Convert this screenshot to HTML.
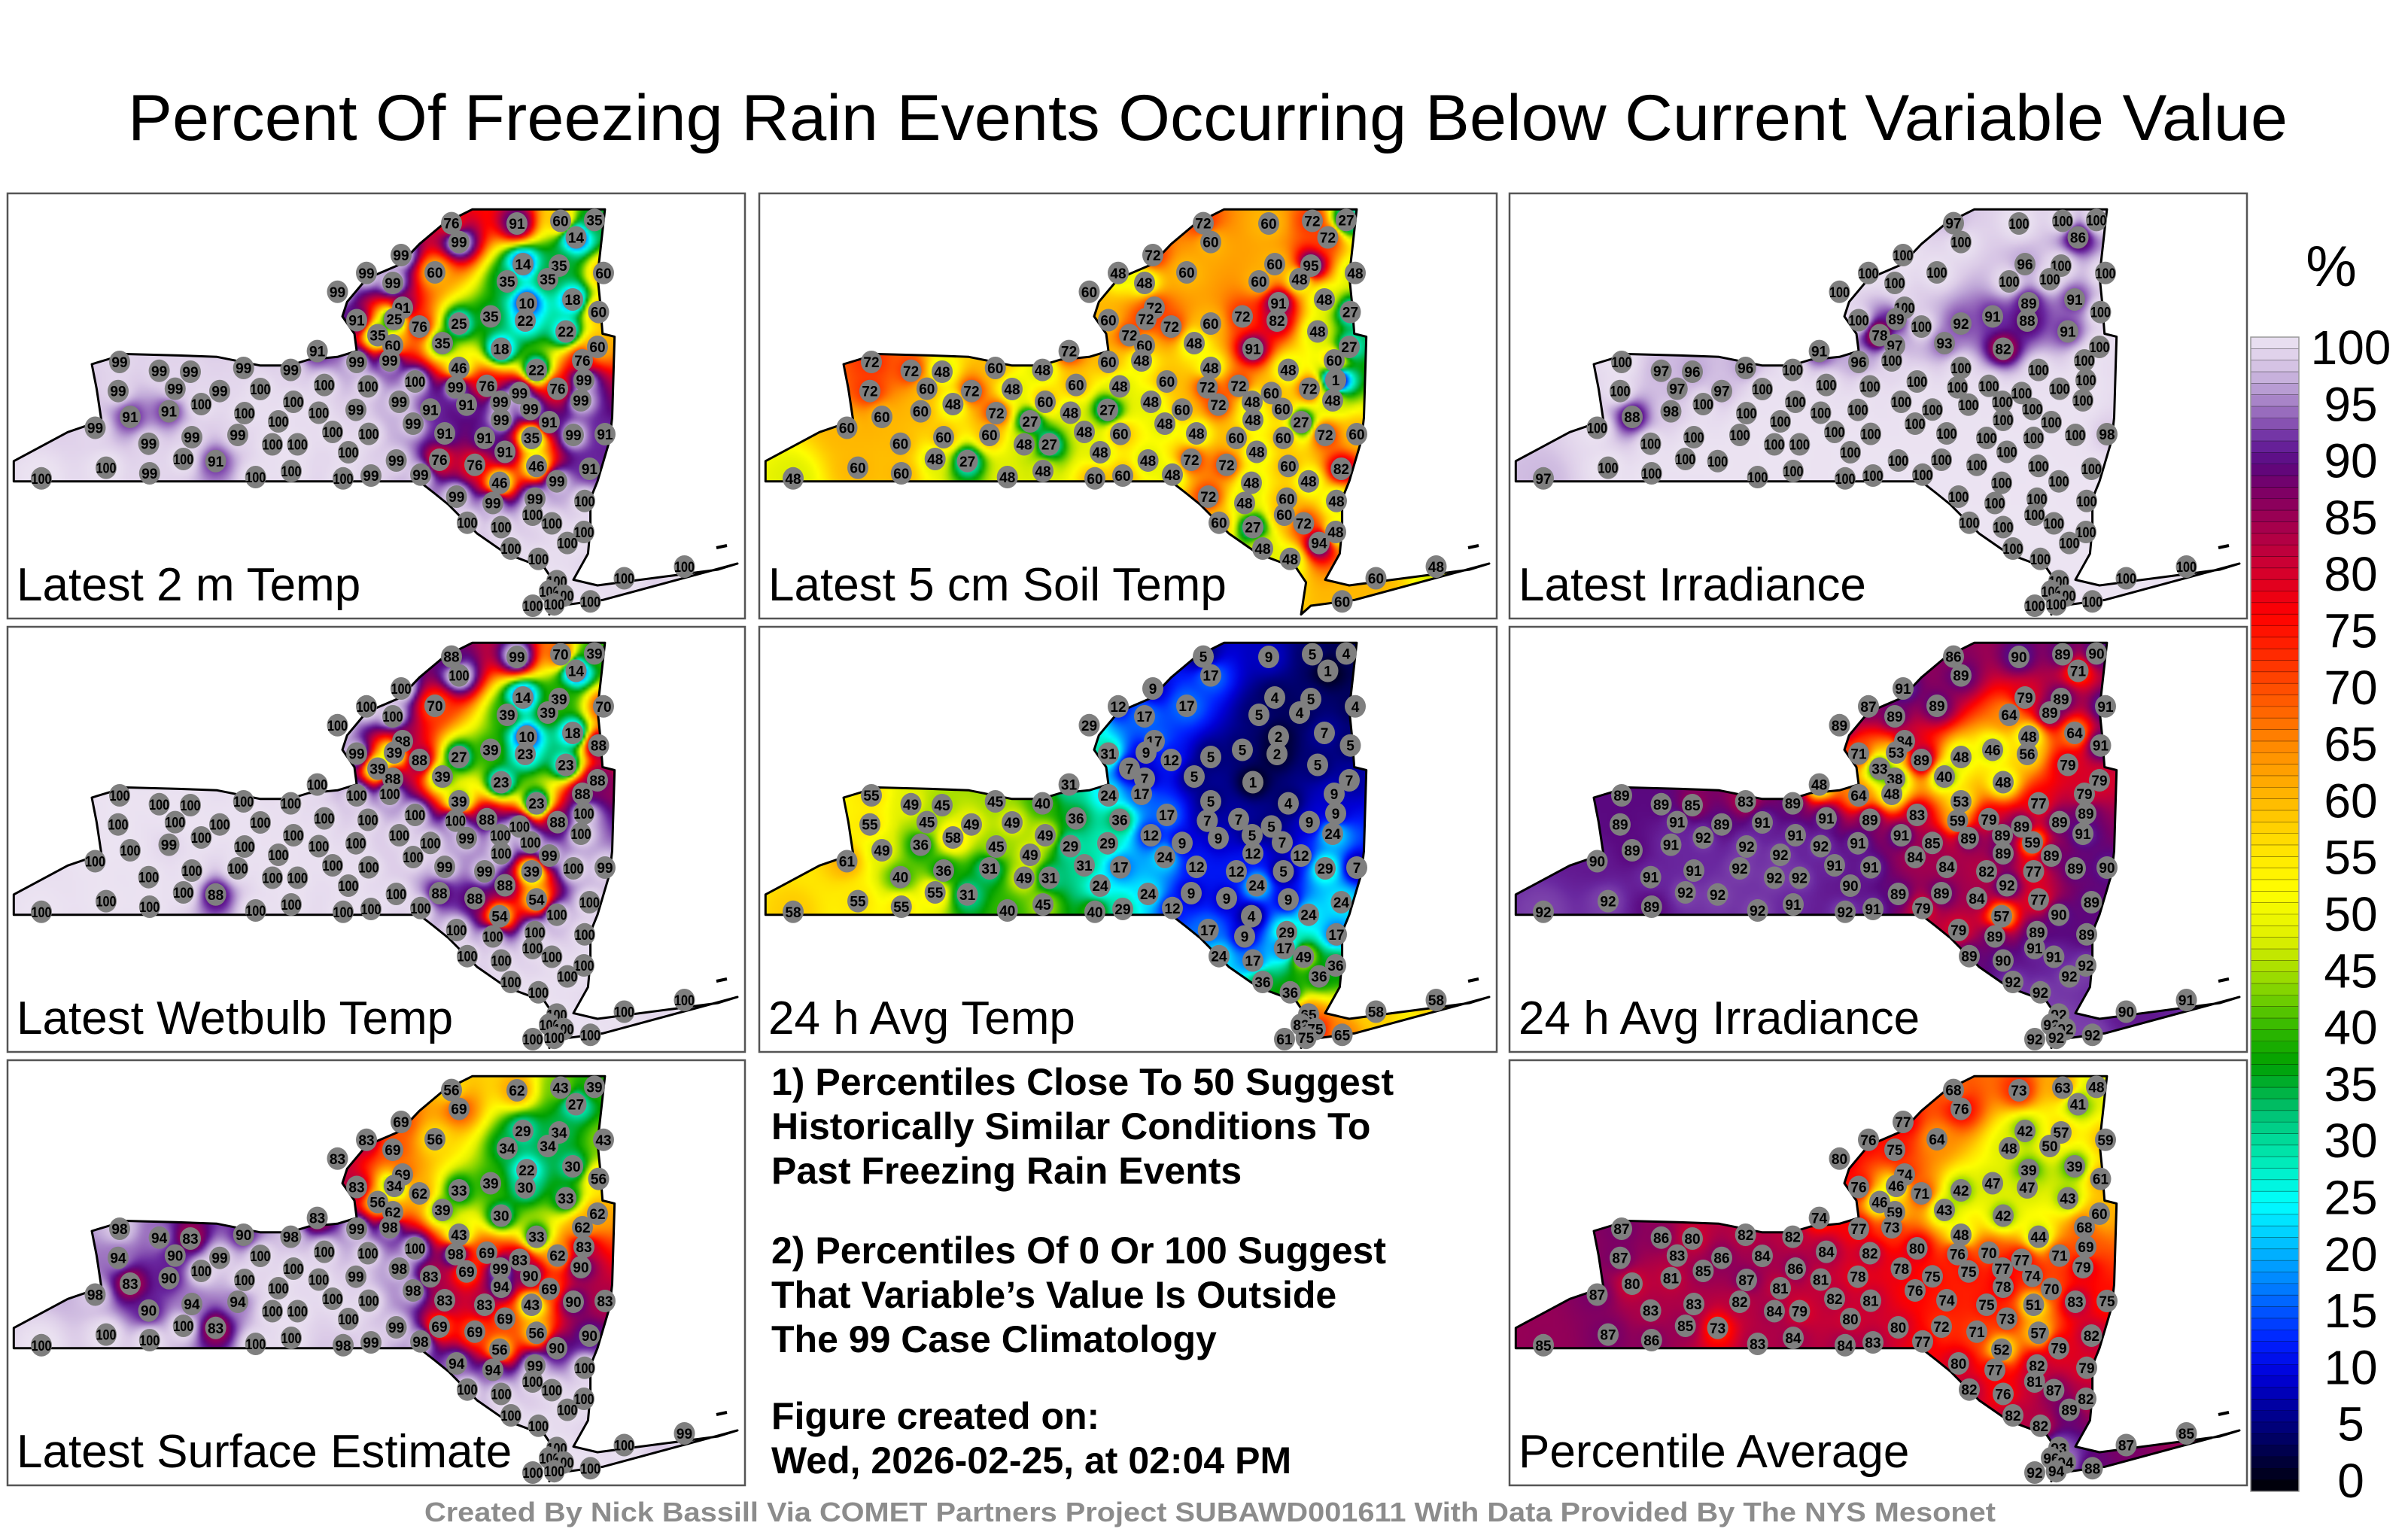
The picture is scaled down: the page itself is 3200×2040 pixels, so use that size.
<!DOCTYPE html>
<html><head><meta charset="utf-8">
<style>
html,body{margin:0;padding:0;background:#fff;width:3200px;height:2040px;overflow:hidden}
#fld{position:absolute;left:0;top:0}
#ov{position:absolute;left:0;top:0}
text{font-family:"Liberation Sans",sans-serif}
</style></head>
<body>
<canvas id="fld" width="3200" height="2040"></canvas>
<svg id="ov" width="3200" height="2040" xmlns="http://www.w3.org/2000/svg">
<text x="1605" y="186" font-size="86" text-anchor="middle" textLength="2870" lengthAdjust="spacingAndGlyphs">Percent Of Freezing Rain Events Occurring Below Current Variable Value</text>
<g id="panels"></g>
<g font-weight="bold" font-size="50">
<text x="1025" y="1455">1) Percentiles Close To 50 Suggest</text>
<text x="1025" y="1514">Historically Similar Conditions To</text>
<text x="1025" y="1573">Past Freezing Rain Events</text>
<text x="1025" y="1679">2) Percentiles Of 0 Or 100 Suggest</text>
<text x="1025" y="1738">That Variable’s Value Is Outside</text>
<text x="1025" y="1797">The 99 Case Climatology</text>
<text x="1025" y="1899">Figure created on:</text>
<text x="1025" y="1958">Wed, 2026-02-25, at 02:04 PM</text>
</g>
<g id="cbar"></g>
<text x="3098" y="380" font-size="76" text-anchor="middle">%</text>
<text x="1608" y="2022" font-size="36" font-weight="bold" fill="#8c8c8c" text-anchor="middle" textLength="2088" lengthAdjust="spacingAndGlyphs">Created By Nick Bassill Via COMET Partners Project SUBAWD001611 With Data Provided By The NYS Mesonet</text>
</svg>
<script>
// ---- data ----
const panelTitles=["Latest 2 m Temp","Latest 5 cm Soil Temp","Latest Irradiance","Latest Wetbulb Temp","24 h Avg Temp","24 h Avg Irradiance","Latest Surface Estimate","Percentile Average"];
const stations=[[590,39.6],[677,40],[735,36.5],[780,35.4],[755.5,58.5],[600,64.6],[523,82],[477,105.8],[512,119],[438.5,130.8],[568,105],[685,94],[733,96],[664,117],[718,114],[792,105.8],[690,146],[751,141],[785.5,157.7],[525,152],[514,167],[464,168.5],[547.4,177],[600,173],[642,163.5],[688,169],[742,183.5],[492,188.5],[512,202],[578,199],[656,206.5],[784,204],[411.6,209.6],[464,224],[508,222],[600,232],[703,234.6],[764,222],[149,224],[201.6,235.8],[243,237],[313.7,232],[376.4,234.6],[541.6,250],[595.4,257.7],[637,255.8],[680.5,265.4],[731,259.6],[766,248],[147,262.7],[222.8,259.6],[282,262.7],[336,260],[421,254.6],[479,256.5],[762,275],[610,280.8],[655,277],[695,286.5],[520.5,277],[380,277],[463,287.7],[257.4,280],[163,297],[214.5,289.6],[116.5,311.5],[315,292],[413.6,291.5],[360,303],[562,287.3],[720,304],[656,301],[539,306],[581,319],[634,325],[696.5,325],[752,321],[794,320],[187.6,332.7],[245,324],[306,321],[432,317],[480,319.6],[352,333.5],[385.4,333.5],[661,343.5],[453,344],[233.7,353],[276.6,355.8],[574,354],[621,360.8],[703,362.3],[773.4,366],[516.6,355],[131,364.6],[188.8,372],[377,369],[329.7,377],[446,378.8],[483,375],[549,373.8],[45,378.8],[654,384.6],[730,382.7],[596.7,403],[645,411.5],[701,405.8],[767,408.8],[697.8,427],[611,437.7],[656,443.5],[723.4,438.5],[766,450],[744,464.6],[669,472],[705.5,485.8],[730,515.4],[720,528.8],[739,534.6],[698,548],[726.6,546.2],[774.6,542.3],[819.5,511.5],[899.5,496]];
const temp2m=[76,91,60,35,14,99,99,99,99,99,60,14,35,35,35,60,10,18,60,91,25,91,76,25,35,22,22,35,60,35,18,60,91,99,99,46,22,76,99,99,99,99,99,100,99,76,99,76,99,99,99,99,100,100,100,99,91,99,99,99,100,99,100,91,91,99,100,100,100,91,91,99,99,91,91,35,99,91,99,99,99,100,100,100,100,91,100,100,91,76,76,46,91,99,100,99,100,100,100,99,99,100,46,99,99,99,99,100,100,100,100,100,100,100,100,100,100,100,100,100,100,100,100,100];
const soil5cm=[72,60,72,27,72,60,72,48,48,60,60,60,95,60,48,48,91,48,27,72,72,60,72,60,72,82,48,72,60,48,91,27,72,60,48,48,48,60,72,72,48,60,48,60,72,72,60,72,1,72,60,72,48,60,48,48,72,48,60,48,60,27,48,60,60,60,72,48,27,60,27,48,48,48,60,60,72,60,60,60,60,48,60,48,27,48,48,48,27,72,72,60,82,48,60,60,48,48,60,60,48,48,48,48,72,48,60,48,60,60,27,72,48,94,48,48,null,null,null,null,null,60,60,48];
const irrad=[97,100,100,100,86,100,100,100,100,100,100,96,100,100,100,100,89,91,100,100,89,100,100,92,91,88,91,78,97,93,82,100,91,96,100,100,100,100,100,97,96,96,100,100,100,100,100,100,100,100,97,97,100,100,100,100,100,100,100,100,100,100,100,88,98,100,100,100,100,100,100,100,100,100,100,100,100,98,100,100,100,100,100,100,100,100,100,100,100,100,100,100,100,100,100,100,100,100,100,100,100,97,100,100,100,100,100,100,100,100,100,100,100,100,100,100,100,100,100,100,100,100,100,100];
const wetbulb=[88,99,70,39,14,100,100,100,100,100,70,14,39,39,39,70,10,18,88,88,39,99,88,27,39,23,23,39,88,39,23,88,100,100,100,39,23,88,100,100,100,100,100,100,100,88,100,88,100,100,100,100,100,100,100,100,99,100,100,100,100,100,100,100,99,100,100,100,100,100,99,100,100,99,99,39,100,99,100,100,100,100,100,100,100,88,100,100,88,88,88,54,100,100,100,100,100,100,100,100,100,100,54,100,100,100,100,100,100,100,100,100,100,100,100,100,100,100,100,100,100,100,100,100];
const avgTemp24=[5,9,5,4,1,17,9,12,17,29,17,4,5,5,4,4,2,7,5,17,9,31,12,5,5,2,5,7,7,5,1,7,31,24,17,5,4,9,55,49,45,45,40,17,7,7,5,9,9,55,45,49,49,36,36,24,9,5,7,12,49,29,58,49,36,61,45,29,49,9,12,12,24,12,12,5,29,7,40,36,31,31,17,49,31,24,24,55,31,9,9,9,24,24,55,55,45,40,40,29,12,58,4,24,17,9,29,17,17,24,17,49,36,36,36,36,65,82,75,61,75,65,58,58];
const avgIrrad24=[86,90,89,90,71,89,91,87,89,89,89,79,89,64,89,91,48,64,91,84,53,71,89,48,46,56,79,33,38,40,48,79,48,64,48,53,77,79,89,89,85,83,89,83,59,79,89,89,89,89,91,89,91,91,89,91,89,89,59,91,91,91,92,89,91,90,92,92,92,85,89,89,84,84,82,77,89,90,91,91,92,91,91,92,92,92,90,92,92,89,84,77,89,89,92,89,91,92,92,91,79,92,57,90,79,89,89,89,91,89,90,91,92,92,92,92,92,92,92,92,92,92,90,91];
const sfcEst=[56,62,43,39,27,69,69,83,69,83,56,29,34,34,34,43,22,30,56,69,34,83,62,33,39,30,33,56,62,39,30,62,83,99,98,43,33,62,98,94,83,90,98,100,98,69,83,62,83,94,90,99,100,100,100,90,69,99,90,98,100,99,100,83,90,98,100,100,100,83,69,94,98,83,83,43,90,83,90,94,94,100,100,100,100,69,100,100,83,69,69,56,90,99,100,100,100,100,98,99,98,100,56,90,94,94,99,100,100,100,100,100,100,100,100,100,100,100,100,100,100,100,100,99];
const pctAvg=[68,73,63,48,41,76,77,76,75,80,64,42,57,48,50,59,39,39,61,74,46,76,71,42,47,47,43,46,59,43,42,60,74,77,73,48,44,68,87,86,80,82,82,80,76,70,77,71,69,87,83,86,84,84,82,79,75,77,74,78,86,78,85,80,81,87,87,81,81,75,70,78,76,74,75,51,83,75,83,83,82,82,81,84,79,73,80,85,73,72,71,57,82,80,87,86,84,83,84,83,77,85,52,79,80,77,82,79,81,82,76,87,82,89,82,82,93,96,94,92,94,88,87,85];
const panelValues=[temp2m,soil5cm,irrad,wetbulb,avgTemp24,avgIrrad24,sfcEst,pctAvg];
const panelSlots=[[0,0],[1,0],[2,0],[0,1],[1,1],[2,1],[0,2],[2,2]];
const cbTicks=[100,95,90,85,80,75,70,65,60,55,50,45,40,35,30,25,20,15,10,5,0];

// ---- geometry / styling ----
const COLX=[10,1009,2006], ROWY=[257,833,1409], PW=980, PH=565;
const outline=[[8.3,355.8],[8.3,382.7],[547,382.7],[566.6,398],[585.8,413.5],[624,452],[662.6,478.8],[713.8,498],[726.6,517],[720,559.6],[733,548],[790.7,540.4],[970,492],[944.3,500],[784,521],[752,513.5],[771.4,478.8],[774.6,444],[774.6,405.8],[784,382.7],[800,328.8],[803.5,298],[806.7,190.4],[790.7,186.5],[787.5,144.2],[784,109.6],[787.5,78.8],[793.9,21.2],[617.8,21.2],[579.4,40.4],[547.4,67.3],[521.8,94.2],[477,113.5],[451.3,144.2],[445,163.5],[461,186.5],[464,209.6],[438.5,217.3],[400,221],[374.5,228.8],[336,228.8],[278.5,217.3],[227.3,215.4],[156.8,213.5],[112,227],[118.4,259.6],[124.8,302],[80,317.3]];
const stops=[[0,[0,0,0]],[5,[0,0,110]],[10,[0,0,216]],[13,[0,32,255]],[17,[0,112,255]],[21,[0,184,255]],[25,[0,255,255]],[29,[0,232,176]],[33,[0,192,112]],[37,[0,160,0]],[40,[48,184,0]],[44,[144,216,0]],[48,[224,240,0]],[52,[255,255,0]],[56,[255,224,0]],[60,[255,184,0]],[64,[255,144,0]],[68,[255,96,0]],[72,[255,48,0]],[76,[255,0,0]],[80,[208,0,48]],[84,[160,0,80]],[87,[120,0,104]],[89,[90,8,128]],[91,[106,40,160]],[93,[144,96,184]],[96,[192,168,216]],[98,[220,204,232]],[100,[236,228,242]]];
function cmap(v){v=Math.max(0,Math.min(100,v));for(let i=1;i<stops.length;i++){if(v<=stops[i][0]){const a=stops[i-1],b=stops[i],t=(v-a[0])/(b[0]-a[0]);return a[1].map((c,k)=>Math.round(c+(b[1][k]-c)*t));}}return stops[stops.length-1][1];}
function rgb(v){const c=cmap(v);return `rgb(${c[0]},${c[1]},${c[2]})`;}
const NS="http://www.w3.org/2000/svg";
function mk(tag,attrs,parent){const e=document.createElementNS(NS,tag);for(const k in attrs)e.setAttribute(k,attrs[k]);if(parent)parent.appendChild(e);return e;}
const outlineD="M"+outline.map(p=>p.join(",")).join("L")+"Z";

// ---- fields (IDW) ----
const ctx=document.getElementById('fld').getContext('2d');
const SC=4, GW=Math.ceil(PW/SC), GH=Math.ceil(PH/SC);
panelValues.forEach((vals,pi)=>{
  const [cx,cy]=panelSlots[pi], ox=COLX[cx], oy=ROWY[cy];
  const off=document.createElement('canvas');off.width=GW;off.height=GH;
  const octx=off.getContext('2d');const img=octx.createImageData(GW,GH);
  const pts=[];stations.forEach((s,i)=>{if(vals[i]!==null)pts.push([s[0],s[1],vals[i]]);});
  for(let gy=0;gy<GH;gy++)for(let gx=0;gx<GW;gx++){
    const x=gx*SC+SC/2,y=gy*SC+SC/2;let sw=0,sv=0;
    for(const p of pts){const dx=x-p[0],dy=y-p[1];const d2=dx*dx+dy*dy+4;const w=1/(d2*Math.sqrt(d2));sw+=w;sv+=w*p[2];}
    const c=cmap(sv/sw);const o=(gy*GW+gx)*4;img.data[o]=c[0];img.data[o+1]=c[1];img.data[o+2]=c[2];img.data[o+3]=255;
  }
  octx.putImageData(img,0,0);
  ctx.save();ctx.translate(ox,oy);ctx.beginPath();
  outline.forEach((p,i)=>i?ctx.lineTo(p[0],p[1]):ctx.moveTo(p[0],p[1]));ctx.closePath();ctx.clip();
  ctx.imageSmoothingEnabled=true;ctx.drawImage(off,0,0,GW*SC,GH*SC);ctx.restore();
});

// ---- overlays ----
const panelsG=document.getElementById('panels');
panelValues.forEach((vals,pi)=>{
  const [cx,cy]=panelSlots[pi];
  const g=mk('g',{transform:`translate(${COLX[cx]},${ROWY[cy]})`},panelsG);
  
  
  const r=mk('rect',{x:0,y:0,width:PW,height:PH,fill:'none',stroke:'#555','stroke-width':2.5},g);
  
  
  const o=mk('path',{d:outlineD,fill:'none',stroke:'#000','stroke-width':3,'stroke-linejoin':'round'},g);
  
  
  const d=mk('path',{d:'M942,471 L956,468',stroke:'#000','stroke-width':4,fill:'none'},g);
  
  
  stations.forEach((s,i)=>{
    if(vals[i]===null)return;
    const sg=mk('g',{},g);
    
    
    mk('ellipse',{cx:s[0],cy:s[1],rx:14,ry:15,fill:'#7f7f7f'},sg);
    const t=mk('text',{x:s[0],y:s[1]+7,'font-size':19,'font-weight':'bold','text-anchor':'middle'},sg);
    if(vals[i]>=100){t.setAttribute('textLength',27);t.setAttribute('lengthAdjust','spacingAndGlyphs');}
    t.textContent=vals[i];
  });
  const lt=mk('text',{x:12,y:541,'font-size':62},g);
  
  
  lt.textContent=panelTitles[pi];
});

// ---- colorbar ----
const cb=document.getElementById('cbar');
const CBX=2991,CBW=64,CBT=448,CBB=1982;
const cby=v=>CBB-(v/100)*(CBB-CBT);
for(let v=0;v<100;v++){
  const rr=mk('rect',{x:CBX,y:cby(v+1),width:CBW,height:cby(v)-cby(v+1)+0.5,fill:rgb(v+0.5)},cb);
  
  
  mk('line',{x1:CBX,x2:CBX+CBW,y1:cby(v),y2:cby(v),stroke:'#000','stroke-width':0.6,'stroke-opacity':0.6},cb);
}
mk('rect',{x:CBX,y:CBT,width:CBW,height:CBB-CBT,fill:'none',stroke:'#999','stroke-width':1.5},cb);
const lab=v=>461+(100-v)*15.06;
cbTicks.forEach(v=>{
  const t=mk('text',{x:3124,y:lab(v)+23,'font-size':64,'text-anchor':'middle'},cb);
  
  
  t.textContent=v;
});
</script>
</body></html>
